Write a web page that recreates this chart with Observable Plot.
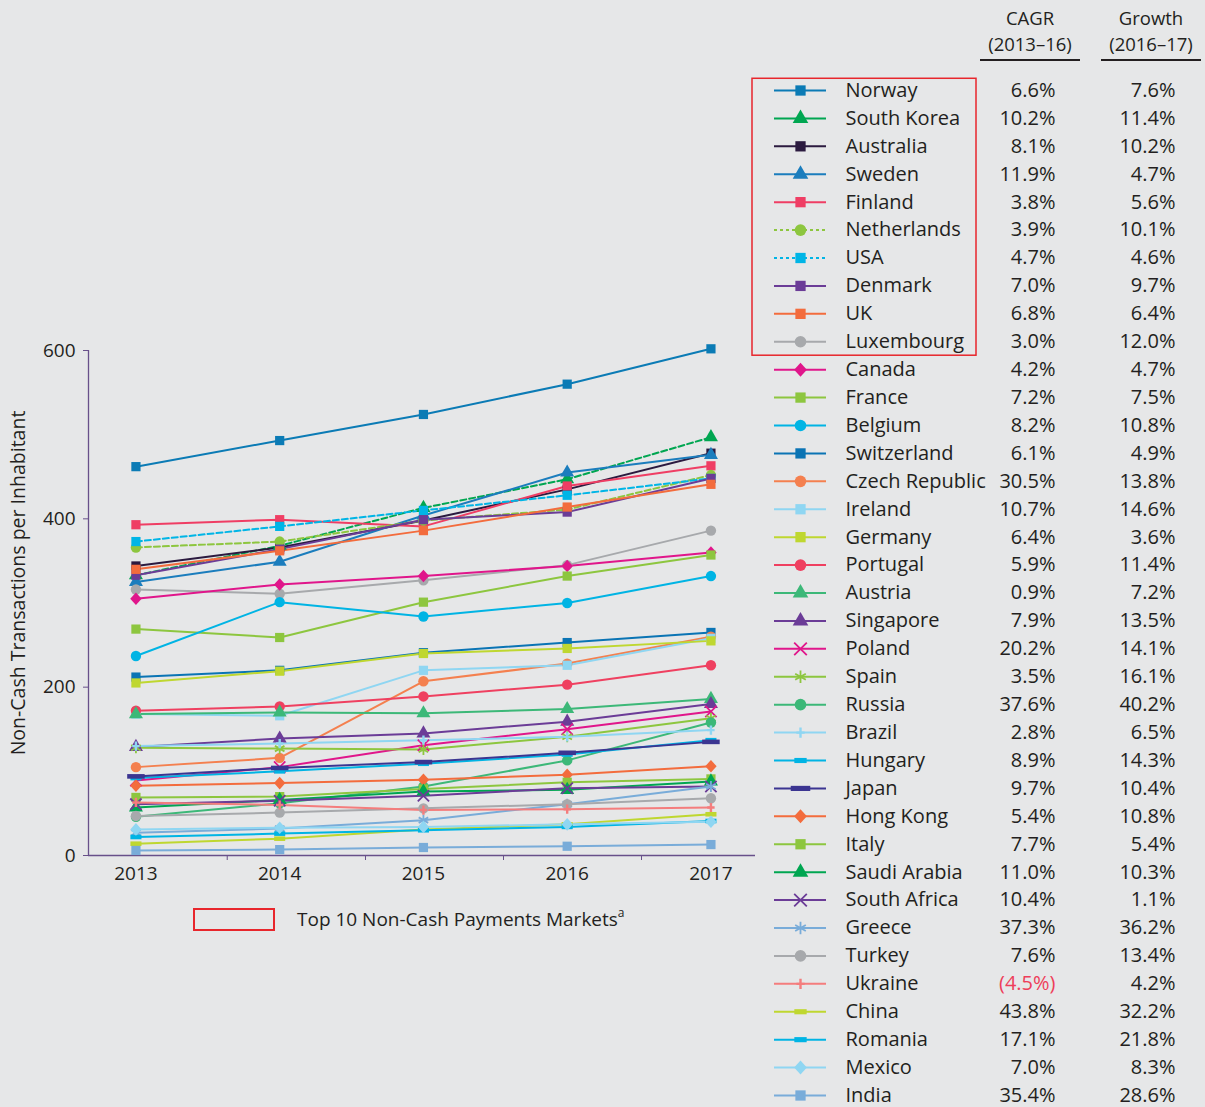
<!DOCTYPE html>
<html><head><meta charset="utf-8">
<script src="https://cdn.jsdelivr.net/npm/d3@7"></script>
<script src="https://cdn.jsdelivr.net/npm/@observablehq/plot@0.6"></script>
<style>
html,body{margin:0;padding:0;background:#e6e7e8;}
#wrap{position:relative;width:1205px;height:1107px;background:#e6e7e8;font-family:"Open Sans",sans-serif;color:#231f20;overflow:hidden}
#main{position:absolute;left:0;top:0}
#legend{position:absolute;left:750px;top:0}
.hdr{position:absolute;width:100px;text-align:center;font-size:18.5px;line-height:20px;white-space:nowrap}
.rule{position:absolute;top:59px;width:100px;height:0;border-top:2px solid #231f20}
#top10{position:absolute;left:193px;top:908px;width:78px;height:19px;border:2px solid #e8262c}
#top10t{position:absolute;left:297px;top:906px;font-size:19px;line-height:26px}
#top10t sup{font-size:12px;vertical-align:9px;line-height:0}
</style></head><body>
<div id="wrap">
  <div id="main"></div>
  <div id="legend"></div>
  <div class="hdr" style="left:980px;top:8px">CAGR</div>
  <div class="hdr" style="left:980px;top:34px">(2013–16)</div>
  <div class="rule" style="left:980px"></div>
  <div class="hdr" style="left:1101px;top:8px">Growth</div>
  <div class="hdr" style="left:1101px;top:34px">(2016–17)</div>
  <div class="rule" style="left:1101px"></div>
  <div id="top10"></div>
  <div id="top10t">Top 10 Non-Cash Payments Markets<sup>a</sup></div>
</div>
<script>
const years = [2013, 2014, 2015, 2016, 2017];
const yTicks = [0, 200, 400, 600];
const xTickMarks = [2013.635, 2014.597, 2015.557, 2016.517];
const yLabel = "Non-Cash Transactions per Inhabitant";

const names = ["Norway","South Korea","Australia","Sweden","Finland","Netherlands","USA","Denmark","UK","Luxembourg",
  "Canada","France","Belgium","Switzerland","Czech Republic","Ireland","Germany","Portugal","Austria","Singapore",
  "Poland","Spain","Russia","Brazil","Hungary","Japan","Hong Kong","Italy","Saudi Arabia","South Africa",
  "Greece","Turkey","Ukraine","China","Romania","Mexico","India"];

const norway      = [462, 493, 524, 560, 602];
const southKorea  = [333, 368, 413, 447, 497];
const australia   = [344, 366, 398, 435, 478];
const sweden      = [325, 349, 404, 455, 476];
const finland     = [393, 399, 391, 439, 463];
const netherlands = [366, 373, 398, 411, 452];
const usa         = [373, 391, 410, 428, 448];
const denmark     = [333, 364, 399, 408, 448];
const uk          = [340, 362, 386, 414, 441];
const luxembourg  = [316, 311, 327, 345, 386];
const canada      = [305, 322, 332, 344, 360];
const france      = [269, 259, 301, 332, 357];
const belgium     = [237, 301, 284, 300, 332];
const switzerland = [212, 220, 241, 253, 265];
const czech       = [105, 116, 207, 228, 260];
const ireland     = [168, 166, 220, 226, 258];
const germany     = [205, 219, 240, 246, 255];
const portugal    = [172, 177, 189, 203, 226];
const austria     = [168, 170, 169, 174, 186];
const singapore   = [129, 139, 145, 159, 180];
const poland      = [89, 105, 131, 150, 171];
const spain       = [128, 127, 126, 141, 163];
const russia      = [46, 62, 82, 113, 158];
const brazil      = [130, 133, 137, 141, 149];
const hungary     = [92, 100, 109, 120, 137];
const japan       = [94, 104, 111, 122, 135];
const hongKong    = [83, 86, 90, 96, 106];
const italy       = [69, 70, 79, 87, 91];
const saudiArabia = [57, 66, 76, 78, 88];
const southAfrica = [61, 65, 71, 80, 82];
const greece      = [27, 32, 42, 61, 82];
const turkey      = [47, 51, 56, 61, 68];
const ukraine     = [63, 60, 54, 55, 57];
const china       = [14, 20, 31, 37, 49];
const romania     = [22, 26, 30, 34, 41];
const mexico      = [31, 33, 34, 37, 40];
const india       = [6, 7, 9.5, 11, 13];

const seriesList = [norway, southKorea, australia, sweden, finland, netherlands, usa, denmark, uk, luxembourg,
  canada, france, belgium, switzerland, czech, ireland, germany, portugal, austria, singapore,
  poland, spain, russia, brazil, hungary, japan, hongKong, italy, saudiArabia, southAfrica,
  greece, turkey, ukraine, china, romania, mexico, india];

const colorList = ["#0b7bb5","#00a651","#2b1a3f","#1b7dbd","#ef3e64","#8dc63f","#00b5e6","#6b3c97","#f36c3d","#a7a9ac",
  "#e0168b","#8dc63f","#00b4e4","#0a74b4","#f4804f","#8fd6f2","#bfd730","#ef4060","#3cb878","#6b3c97",
  "#e0168b","#8dc63f","#3cb878","#8fd6f2","#00b4e4","#3b3591","#f36c3d","#8dc63f","#00a651","#6b3c97",
  "#79acd9","#a7a9ac","#f47d7d","#bfd730","#00b4e4","#8fd6f2","#79acd9"];

const symbolNames = ["square","triangle","square","triangle","square","circle","square","square","square","circle",
  "diamond","square","circle","square","circle","square","square","circle","triangle","triangle",
  "times","asterisk","circle","plus","dash","longdash","diamond","square","triangle","times",
  "asterisk","circle","plus","dash","dash","diamond","square"];

const chartDashed = ["South Korea","Netherlands","USA"];
const legendDashed = ["Netherlands","USA"];

const cagr = ["6.6%","10.2%","8.1%","11.9%","3.8%","3.9%","4.7%","7.0%","6.8%","3.0%",
  "4.2%","7.2%","8.2%","6.1%","30.5%","10.7%","6.4%","5.9%","0.9%","7.9%",
  "20.2%","3.5%","37.6%","2.8%","8.9%","9.7%","5.4%","7.7%","11.0%","10.4%",
  "37.3%","7.6%","(4.5%)","43.8%","17.1%","7.0%","35.4%"];
const growth = ["7.6%","11.4%","10.2%","4.7%","5.6%","10.1%","4.6%","9.7%","6.4%","12.0%",
  "4.7%","7.5%","10.8%","4.9%","13.8%","14.6%","3.6%","11.4%","7.2%","13.5%",
  "14.1%","16.1%","40.2%","6.5%","14.3%","10.4%","10.8%","5.4%","10.3%","1.1%",
  "36.2%","13.4%","4.2%","32.2%","21.8%","8.3%","28.6%"];

const ink = "#231f20";
const axisColor = "#68508a";
const negColor = "#ee3e5a";
const fontFamily = '"Open Sans", sans-serif';

function rectSymbol(ratioW, ratioH) {
  return {draw(ctx, size) {
    const s = Math.sqrt(size);
    const w = s * ratioW, h = s * ratioH;
    ctx.moveTo(-w/2, -h/2); ctx.lineTo(w/2, -h/2); ctx.lineTo(w/2, h/2); ctx.lineTo(-w/2, h/2); ctx.closePath();
  }};
}
function diamondSymbol() {
  return {draw(ctx, size) {
    const s = Math.sqrt(size) * 0.62;
    ctx.moveTo(0, -s * 1.1); ctx.lineTo(s, 0); ctx.lineTo(0, s * 1.1); ctx.lineTo(-s, 0); ctx.closePath();
  }};
}
function plusSymbol() {
  return {draw(ctx, size) {
    const s = Math.sqrt(size) * 0.5;
    ctx.moveTo(0, -s); ctx.lineTo(0, s); ctx.moveTo(-s * 0.8, 0); ctx.lineTo(s * 0.8, 0);
  }};
}
const customSymbols = {dash: rectSymbol(1.2, 0.5), longdash: rectSymbol(1.9, 0.5), diamond: diamondSymbol(), plus: plusSymbol()};
const strokeSymbols = new Set(["times", "plus", "asterisk"]);

function dotStyle(i, r) {
  const s = symbolNames[i];
  const c = colorList[i];
  const symbol = customSymbols[s] || s;
  if (strokeSymbols.has(s)) return {symbol, r, fill: "none", stroke: c, strokeWidth: s === "plus" ? 2.4 : 1.8};
  return {symbol, r, fill: c, stroke: "none"};
}

const rows = names.flatMap((name, i) => years.map((year, j) => ({name, year, value: seriesList[i][j]})));

const chartMarks = [
  Plot.ruleX([2012.67], {stroke: axisColor, strokeWidth: 1.3}),
  Plot.ruleY([0], {stroke: axisColor, strokeWidth: 1.3}),
  Plot.axisY({ticks: yTicks, tickSize: 5, stroke: axisColor, tickFormat: () => "", label: null}),
  Plot.axisY({ticks: yTicks, tickSize: 0, tickPadding: 13, fontSize: 19, fill: ink, tickFormat: d => String(d), label: null}),
  Plot.axisX({ticks: xTickMarks, tickSize: 5, stroke: axisColor, tickFormat: () => "", label: null}),
  Plot.axisX({ticks: years, tickSize: 0, tickPadding: 11, fontSize: 19, fill: ink, tickFormat: d => String(d), label: null}),
  Plot.text([yLabel], {frameAnchor: "left", dx: -70, dy: -20, rotate: -90, fontSize: 19.5, fill: ink, textAnchor: "middle", lineAnchor: "middle"})
];

names.forEach((name, i) => {
  const data = rows.filter(d => d.name === name);
  chartMarks.push(Plot.line(data, {
    x: "year", y: "value", stroke: colorList[i], strokeWidth: 2,
    strokeDasharray: chartDashed.includes(name) ? "6,3" : null
  }));
});
names.forEach((name, i) => {
  const data = rows.filter(d => d.name === name);
  chartMarks.push(Plot.dot(data, {x: "year", y: "value", ...dotStyle(i, 5.2)}));
});

const chart = Plot.plot({
  width: 760, height: 900,
  marginLeft: 88, marginRight: 5, marginTop: 350, marginBottom: 45,
  x: {domain: [2012.67, 2017.31]},
  y: {domain: [0, 600]},
  style: {background: "transparent", fontFamily, color: ink, fontSize: "19px"},
  marks: chartMarks
});
document.getElementById("main").appendChild(chart);

// Legend table
const idx = names.map((_, i) => i);
const legendMarks = [
  Plot.rect([0], {x1: 2, x2: 226, y1: -0.42, y2: 9.5, fill: "none", stroke: "#e8262c", strokeWidth: 1.5}),
  Plot.ruleY(idx.filter(i => !legendDashed.includes(names[i])), {y: i => i, x1: 24, x2: 76, stroke: i => colorList[i], strokeWidth: 2}),
  Plot.ruleY(idx.filter(i => legendDashed.includes(names[i])), {y: i => i, x1: 24, x2: 76, stroke: i => colorList[i], strokeWidth: 2, strokeDasharray: "3,3"}),
  ...idx.map(i => Plot.dot([i], {x: 50, y: d => d, ...dotStyle(i, 5.8)})),
  Plot.text(idx, {x: 95, y: i => i, text: i => names[i], textAnchor: "start", fontSize: 20, fill: ink}),
  Plot.text(idx, {x: 305, y: i => i, text: i => cagr[i], textAnchor: "end", fontSize: 20, fill: i => cagr[i].startsWith("(") ? negColor : ink}),
  Plot.text(idx, {x: 425, y: i => i, text: i => growth[i], textAnchor: "end", fontSize: 20, fill: ink})
];
const legend = Plot.plot({
  width: 455, height: 1107, margin: 0,
  x: {domain: [0, 455], range: [0, 455], axis: null},
  y: {domain: [0, 36], range: [90, 1095], axis: null},
  style: {background: "transparent", fontFamily, color: ink},
  marks: legendMarks
});
document.getElementById("legend").appendChild(legend);
</script>
</body></html>
